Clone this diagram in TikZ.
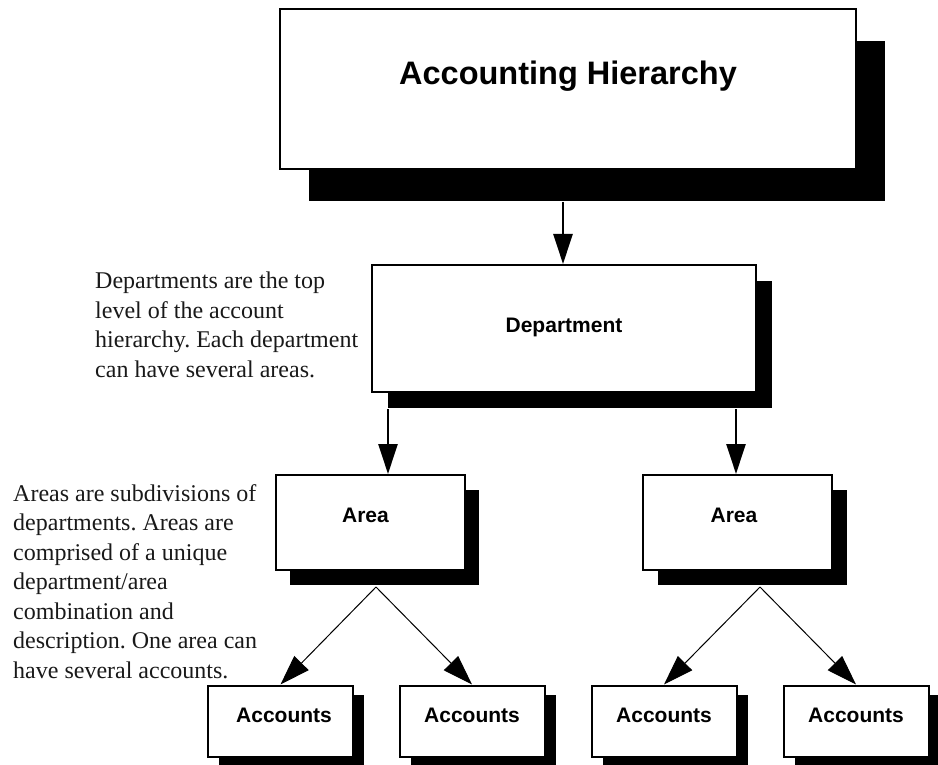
\documentclass[tikz,border=0pt]{standalone}
\usepackage{fontspec}
\setmainfont{Liberation Serif}
\setsansfont{Liberation Sans}
\usetikzlibrary{arrows.meta,shadows}
\begin{document}
\begin{tikzpicture}[x=1pt,y=-1pt,
  box/.style={rectangle, draw=black, line width=2pt, fill=white, inner sep=0pt,
    preaction={draw=white, line width=4pt}},
  accbox/.style={rectangle, draw=black, line width=2pt, fill=white, inner sep=0pt,
    preaction={draw=white, line width=7pt},
    general shadow={fill=black, shadow xshift=11pt, shadow yshift=-9pt},
    minimum width=145pt, minimum height=71pt},
  title/.style={font=\sffamily\bfseries\fontsize{32.5}{38}\selectfont, inner sep=0pt},
  lbl/.style={font=\sffamily\bfseries\fontsize{21}{25}\selectfont, inner sep=0pt},
  para/.style={font=\fontsize{24}{29.5}\selectfont\frenchspacing, align=left, inner sep=0pt, text=black!90},
  vArrow/.style={line width=2.5pt, -{Triangle[length=30pt,width=19pt]}},
  dArrow/.style={line width=1pt, -{Triangle[length=30pt,width=20pt]}}
]
\useasboundingbox (0,0) rectangle (938,765);

% top box
\node[box, general shadow={fill=black, shadow xshift=29pt, shadow yshift=-32pt},
  minimum width=576pt, minimum height=160pt] (top) at (568,89) {};
\node[title, anchor=base] (topT) at (568,85) {Accounting Hierarchy};

% department
\node[box, general shadow={fill=black, shadow xshift=16pt, shadow yshift=-16pt},
  minimum width=384pt, minimum height=127pt] (dept) at (564,328.5) {};
\node[lbl, anchor=base] (deptT) at (564,332) {Department};

% areas
\node[box, general shadow={fill=black, shadow xshift=14pt, shadow yshift=-15pt},
  minimum width=189pt, minimum height=95pt] (aL) at (370.5,522.5) {};
\node[lbl, anchor=base] (aLT) at (365.5,522) {Area};
\node[box, general shadow={fill=black, shadow xshift=15pt, shadow yshift=-15pt},
  minimum width=189pt, minimum height=95pt] (aR) at (737.5,522.5) {};
\node[lbl, anchor=base] (aRT) at (734,522) {Area};

% accounts
\node[accbox] (c1) at (280.5,721) {};
\node[lbl, anchor=base] (c1T) at (284,722) {Accounts};
\node[accbox] (c2) at (472,721) {};
\node[lbl, anchor=base] (c2T) at (472,722) {Accounts};
\node[accbox] (c3) at (664,721) {};
\node[lbl, anchor=base] (c3T) at (664,722) {Accounts};
\node[accbox] (c4) at (856,721) {};
\node[lbl, anchor=base] (c4T) at (856,722) {Accounts};

% descriptions (base anchor = baseline of the last line)
\node[para, anchor=base west] (p1) at (95,377)
  {Departments are the top\\level of the account\\hierarchy. Each department\\can have several areas.};
\node[para, anchor=base west] (p2) at (13,678)
  {Areas are subdivisions of\\departments. Areas are\\comprised of a unique\\department/area\\combination and\\description. One area can\\have several accounts.};

% connectors
\coordinate (tS) at (563,202);
\draw[vArrow] (tS) -- (tS |- dept.north);
\coordinate (dL) at (388,409);
\draw[vArrow] (dL) -- (dL |- aL.north);
\coordinate (dR) at (736,409);
\draw[vArrow] (dR) -- (dR |- aR.north);
\coordinate (apL) at (376,587);
\draw[dArrow] (apL) -- (c1.north);
\draw[dArrow] (apL) -- (c2.north);
\coordinate (apR) at (760,587);
\draw[dArrow] (apR) -- (c3.north);
\draw[dArrow] (apR) -- (c4.north);
\end{tikzpicture}
\end{document}
